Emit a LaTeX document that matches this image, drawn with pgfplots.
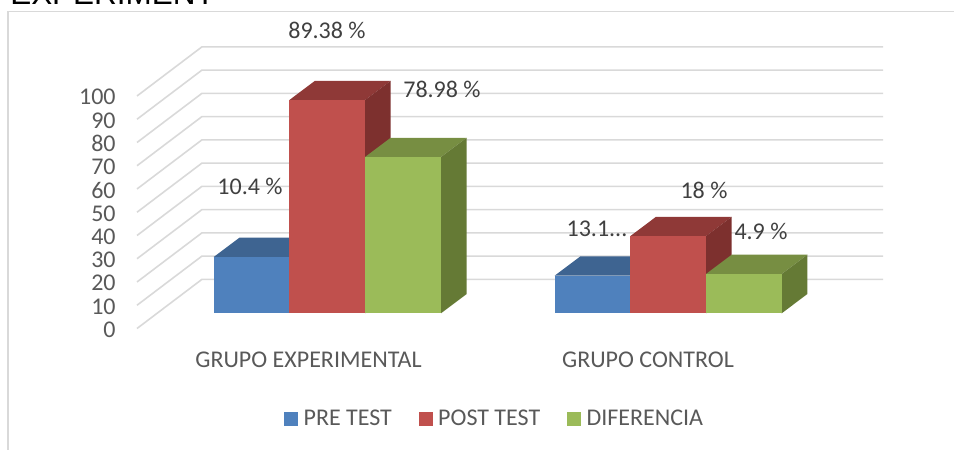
\documentclass[border=0pt]{standalone}
\usepackage{fontspec}
\setmainfont{Carlito}
\newfontfamily\titlefont{Liberation Sans}
\usepackage{pgfplots}
\pgfplotsset{compat=1.18}
\definecolor{gridc}{HTML}{D9D9D9}
\definecolor{txt}{HTML}{404040}
\definecolor{axtxt}{HTML}{595959}
\definecolor{bF}{HTML}{4F81BD}\definecolor{bT}{HTML}{3E6491}
\definecolor{rF}{HTML}{C0504D}\definecolor{rT}{HTML}{8F3937}\definecolor{rS}{HTML}{7D302E}
\definecolor{gF}{HTML}{9BBB59}\definecolor{gT}{HTML}{778E42}\definecolor{gS}{HTML}{657A35}
\begin{document}
\begin{tikzpicture}
\path[use as bounding box] (0pt,0pt) rectangle (715.5pt,337.5pt);
\draw[gridc,line width=1.2pt] (6pt,0pt) -- (6pt,329pt) -- (715.5pt,329pt);
\node[anchor=base west,inner sep=0pt,font=\titlefont\fontsize{23.6pt}{25pt}\selectfont,text=black] at (7.5pt,334pt) {EXPERIMENT};
\begin{axis}[
  at={(102.75pt,91.125pt)},anchor=south west,
  scale only axis,width=559.5pt,height=174.375pt,
  xmin=137,xmax=883,ymin=0,ymax=100,clip=false,
  axis x line*=bottom,axis y line*=left,
  axis line style={draw=none},tick style={draw=none},
  ytick={0,10,...,100},
  xtick={308.5,648},xticklabels={GRUPO EXPERIMENTAL,GRUPO CONTROL},
  /pgf/number format/assume math mode=true,
  yticklabel style={font=\fontsize{18pt}{20pt}\selectfont,text=axtxt,xshift=-12.5pt,yshift=-0.8pt},
  xticklabel style={font=\fontsize{18pt}{20pt}\selectfont,text=axtxt,yshift=-14pt},
  legend columns=3,
  legend style={at={(0.1966,-0.389)},anchor=west,draw=none,fill=none,inner sep=0pt,
    font=\fontsize{18pt}{20pt}\selectfont,text=axtxt,
    /tikz/every odd column/.append style={column sep=2.25pt},
    /tikz/every even column/.append style={column sep=18pt}},
  legend cell align=left,
  legend image code/.code={\fill[#1,draw=none] (0pt,-5.25pt) rectangle (10.5pt,5.25pt);},
]
\addlegendimage{fill=bF}\addlegendentry{PRE TEST}
\addlegendimage{fill=rF}\addlegendentry{POST TEST}
\addlegendimage{fill=gF}\addlegendentry{DIFERENCIA}
% floor and wall grid lines
\addplot[forget plot,gridc,line width=1.2pt,unbounded coords=jump] coordinates {
(137,0)(202,21.16)(883,21.16)(nan,nan)
(137,10)(202,31.16)(883,31.16)(nan,nan)
(137,20)(202,41.16)(883,41.16)(nan,nan)
(137,30)(202,51.16)(883,51.16)(nan,nan)
(137,40)(202,61.16)(883,61.16)(nan,nan)
(137,50)(202,71.16)(883,71.16)(nan,nan)
(137,60)(202,81.16)(883,81.16)(nan,nan)
(137,70)(202,91.16)(883,91.16)(nan,nan)
(137,80)(202,101.16)(883,101.16)(nan,nan)
(137,90)(202,111.16)(883,111.16)(nan,nan)
(137,100)(202,121.16)(883,121.16)};
% group 1: blue
\addplot[forget plot,fill=bT,draw=none] coordinates {(213.7,30.74)(289.3,30.74)(315,39.04)(239.4,39.04)} --cycle;
\addplot[forget plot,fill=bF,draw=none] coordinates {(213.7,6.54)(289.3,6.54)(289.3,30.74)(213.7,30.74)} --cycle;
% group 1: red
\addplot[forget plot,fill=rT,draw=none] coordinates {(289.3,98.24)(365,98.24)(390.7,106.54)(315,106.54)} --cycle;
\addplot[forget plot,fill=rS,draw=none] coordinates {(365,6.54)(390.7,14.84)(390.7,106.54)(365,98.24)} --cycle;
\addplot[forget plot,fill=rF,draw=none] coordinates {(289.3,6.54)(365,6.54)(365,98.24)(289.3,98.24)} --cycle;
% group 1: green
\addplot[forget plot,fill=gT,draw=none] coordinates {(365,73.74)(441,73.74)(466.7,82.04)(390.7,82.04)} --cycle;
\addplot[forget plot,fill=gS,draw=none] coordinates {(441,6.54)(466.7,14.84)(466.7,82.04)(441,73.74)} --cycle;
\addplot[forget plot,fill=gF,draw=none] coordinates {(365,6.54)(441,6.54)(441,73.74)(365,73.74)} --cycle;
% group 2: blue
\addplot[forget plot,fill=bT,draw=none] coordinates {(554.7,22.74)(630.3,22.74)(656,31.04)(580.4,31.04)} --cycle;
\addplot[forget plot,fill=bF,draw=none] coordinates {(554.7,6.54)(630.3,6.54)(630.3,22.74)(554.7,22.74)} --cycle;
% group 2: red
\addplot[forget plot,fill=rT,draw=none] coordinates {(630.3,39.74)(706,39.74)(731.7,48.04)(656,48.04)} --cycle;
\addplot[forget plot,fill=rS,draw=none] coordinates {(706,6.54)(731.7,14.84)(731.7,48.04)(706,39.74)} --cycle;
\addplot[forget plot,fill=rF,draw=none] coordinates {(630.3,6.54)(706,6.54)(706,39.74)(630.3,39.74)} --cycle;
% group 2: green
\addplot[forget plot,fill=gT,draw=none] coordinates {(706,23.44)(781.7,23.44)(807.4,31.74)(731.7,31.74)} --cycle;
\addplot[forget plot,fill=gS,draw=none] coordinates {(781.7,6.54)(807.4,14.84)(807.4,31.74)(781.7,23.44)} --cycle;
\addplot[forget plot,fill=gF,draw=none] coordinates {(706,6.54)(781.7,6.54)(781.7,23.44)(706,23.44)} --cycle;
% data labels
\begin{scope}[every node/.style={font=\fontsize{18pt}{20pt}\selectfont,text=txt,inner sep=0pt}]
\node at (axis cs:327,128.4) {89.38 \%};
\node at (axis cs:442,103.0) {78.98 \%};
\node at (axis cs:250,61.3) {10.4 \%};
\node at (axis cs:597,42.8) {13.1...};
\node at (axis cs:704,59.6) {18 \%};
\node at (axis cs:761,41.8) {4.9 \%};
\end{scope}
\end{axis}
\end{tikzpicture}
\end{document}
